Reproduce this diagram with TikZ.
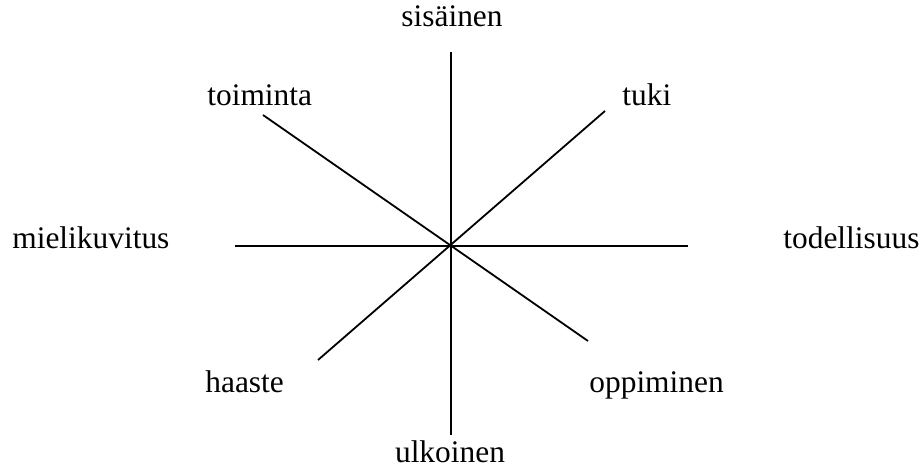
\documentclass[tikz,border=0pt]{standalone}
\usepackage{fontspec}
\setmainfont{Liberation Serif}
\begin{document}
\begin{tikzpicture}[x=0.5pt,y=-0.5pt,
  lbl/.style={inner sep=0pt,font=\fontsize{15.7pt}{18pt}\selectfont},
  spoke/.style={line width=0.9pt,black}]
\useasboundingbox (0,0) rectangle (923,466);
\coordinate (c) at (451,246);
\coordinate (top) at (451,52);
\coordinate (bot) at (451,435);
\coordinate (lft) at (235,246);
\coordinate (rgt) at (688,246);
\coordinate (tl) at (263,115);
\coordinate (br) at (588,341);
\coordinate (bl) at (318,360);
\coordinate (tr) at (605,111);
\draw[spoke] (top) -- (bot);
\draw[spoke] (lft) -- (rgt);
\draw[spoke] (tl) -- (br);
\draw[spoke] (bl) -- (tr);
\node[lbl,anchor=base] (sis) at (452,26) {sisäinen};
\node[lbl,anchor=base west] (toi) at (207,105) {toiminta};
\node[lbl,anchor=base west] (tuk) at (622,105) {tuki};
\node[lbl,anchor=base west] (mie) at (12,248) {mielikuvitus};
\node[lbl,anchor=base west] (tod) at (783,248) {todellisuus};
\node[lbl,anchor=base west] (haa) at (205,392) {haaste};
\node[lbl,anchor=base west] (opp) at (589,392) {oppiminen};
\node[lbl,anchor=base] (ulk) at (450,462) {ulkoinen};
\end{tikzpicture}
\end{document}
